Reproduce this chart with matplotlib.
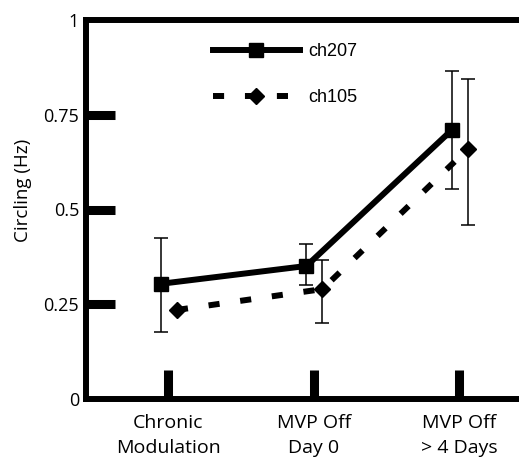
#!/usr/bin/env python3
# circling_plot.py

import numpy as np
import matplotlib
matplotlib.use("Agg")
import matplotlib.pyplot as plt

# Data
categories = ["Chronic\nModulation", "MVP Off\nDay 0", "MVP Off\n> 4 Days"]
ch207 = [0.304, 0.351, 0.71]
ch207_lo = [0.128, 0.05, 0.157]
ch207_hi = [0.122, 0.059, 0.155]
ch105 = [0.235, 0.29, 0.66]
ch105_lo = [0.0, 0.09, 0.20]
ch105_hi = [0.0, 0.076, 0.184]
ytick_vals = [0, 0.25, 0.5, 0.75, 1]
ytick_labels = ["0", "0.25", "0.5", "0.75", "1"]


def plot(ax):
    x = np.arange(len(categories))

    # solid line with squares, shifted a bit left of the category
    ax.plot(x - 0.05, ch207, color="black", lw=4.3, marker="s", ms=10,
            label="ch207", zorder=3)
    ax.errorbar(x - 0.05, ch207, yerr=[ch207_lo, ch207_hi], fmt="none",
                ecolor="black", elinewidth=1.1, capsize=5, capthick=1.1, zorder=4)

    # dashed line with diamonds, shifted a bit right
    ax.plot(x + 0.06, ch105, color="black", lw=4.3, marker="D", ms=8,
            dashes=(8, 15), label="ch105", zorder=3)
    has_err = [i for i in range(len(x)) if ch105_lo[i] > 0]
    ax.errorbar(x[has_err] + 0.06, np.array(ch105)[has_err],
                yerr=[np.array(ch105_lo)[has_err], np.array(ch105_hi)[has_err]],
                fmt="none", ecolor="black", elinewidth=1.1, capsize=5,
                capthick=1.1, zorder=4)

    ax.set_xlim(-0.565, 2.6)
    ax.set_ylim(0, 1)
    ax.set_xticks(x)
    ax.set_xticklabels(categories, fontsize=14, family="Open Sans",
                       linespacing=1.45)
    ax.set_yticks(ytick_vals)
    ax.set_yticklabels(ytick_labels, fontsize=13, family="Open Sans")
    ax.set_ylabel("Circling (Hz)", fontsize=13.5, family="Open Sans")
    ax.yaxis.set_label_coords(-0.118, 0.55)

    ax.tick_params(axis="both", direction="in", length=21, width=6.5)
    ax.tick_params(axis="y", pad=5)
    ax.tick_params(axis="x", pad=11)
    # no tick marks at the corners, only the labels
    yt = ax.yaxis.get_major_ticks()
    for t in (yt[0], yt[-1]):
        t.tick1line.set_visible(False)
    for s in ax.spines.values():
        s.set_linewidth(4.3)
    ax.spines["right"].set_visible(False)

    ax.legend(loc="upper left", bbox_to_anchor=(213 / 519, 1 - 43 / 457),
              bbox_transform=ax.figure.transFigure, frameon=False,
              numpoints=1, handlelength=4.8, handletextpad=0.45,
              labelspacing=1.6, borderpad=0, borderaxespad=0,
              prop={"family": "Liberation Sans", "size": 13})


def main():
    plt.rcParams["lines.scale_dashes"] = False
    fig = plt.figure(figsize=(5.19, 4.57), dpi=100)
    ax = fig.add_axes([86 / 519, 1 - 399 / 457, 460.5 / 519, 379 / 457])
    plot(ax)
    fig.savefig("out.png", dpi=100)


if __name__ == "__main__":
    main()
